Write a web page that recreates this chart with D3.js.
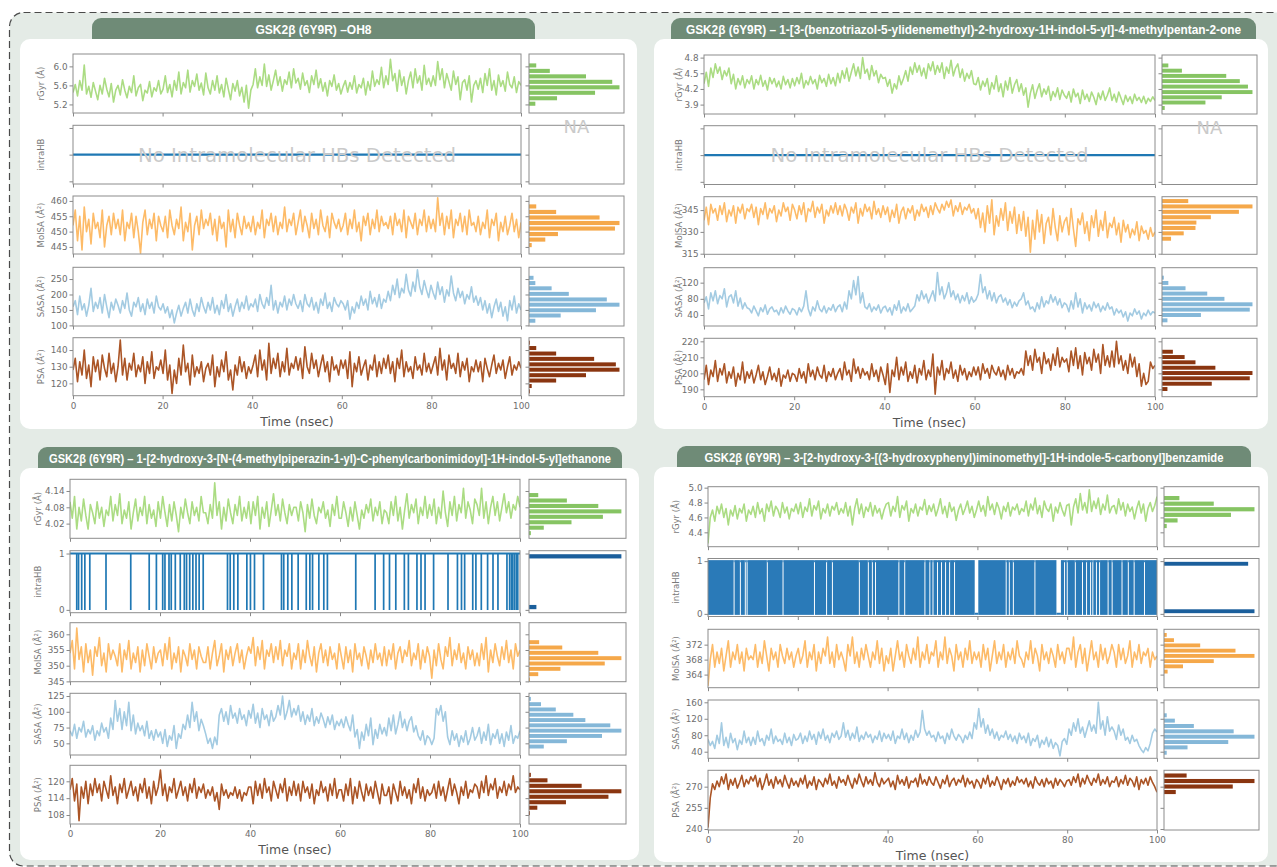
<!DOCTYPE html>
<html>
<head>
<meta charset="utf-8">
<script src="https://cdn.jsdelivr.net/npm/d3@7"></script>
<style>
body { margin: 0; background: #fff; }
svg { display: block; font-family: "DejaVu Sans", sans-serif; }
</style>
</head>
<body>
<svg id="chart" width="1277" height="867"></svg>
<script>
// ---- titles
var title1 = "GSK2\u03b2 (6Y9R) \u2013OH8";
var title2 = "GSK2\u03b2 (6Y9R) \u2013 1-[3-(benzotriazol-5-ylidenemethyl)-2-hydroxy-1H-indol-5-yl]-4-methylpentan-2-one";
var title3 = "GSK2\u03b2 (6Y9R) \u2013 1-[2-hydroxy-3-[N-(4-methylpiperazin-1-yl)-C-phenylcarbonimidoyl]-1H-indol-5-yl]ethanone";
var title4 = "GSK2\u03b2 (6Y9R) \u2013 3-[2-hydroxy-3-[(3-hydroxyphenyl)iminomethyl]-1H-indole-5-carbonyl]benzamide";

var rowNames = ["rGyr (\u00c5)", "intraHB", "MolSA (\u00c5\u00b2)", "SASA (\u00c5\u00b2)", "PSA (\u00c5\u00b2)"];
var timeTicks = [0, 20, 40, 60, 80, 100];

// ---- panel 1 (OH8), 200 frames over 100 ns
var p1Rgyr = [5.45,5.62,5.38,5.7,5.5,6.03,5.42,5.58,5.35,5.66,5.48,5.3,5.6,5.42,5.75,5.52,5.36,5.64,5.25,5.5,
 5.6,5.4,5.72,5.5,5.34,5.58,5.45,5.8,5.38,5.55,5.62,5.28,5.5,5.44,5.68,5.36,5.55,5.48,5.7,5.42,
 5.52,5.8,5.45,5.62,5.36,5.7,5.5,5.88,5.42,5.66,5.55,5.92,5.46,5.7,5.58,5.84,5.5,5.65,5.4,5.86,
 5.55,5.42,5.7,5.5,5.8,5.44,5.62,5.36,5.75,5.52,5.3,5.64,5.48,5.7,5.38,5.56,5.25,5.6,5.12,5.5,
 5.62,5.95,5.55,5.78,5.6,6.05,5.58,5.82,5.5,5.7,5.92,5.6,5.78,5.48,5.72,5.62,5.88,5.55,5.95,5.65,
 5.75,5.52,5.86,5.6,5.7,5.45,5.8,5.62,5.92,5.55,5.74,5.48,5.66,5.38,5.7,5.58,5.82,5.5,5.64,5.42,
 5.58,5.7,5.46,5.66,5.52,5.8,5.44,5.62,5.55,5.75,5.4,5.68,5.5,5.9,5.58,5.72,5.62,5.98,5.55,5.8,
 5.62,6.15,5.7,5.85,5.48,5.92,5.6,5.78,5.42,5.7,5.88,5.55,5.95,5.65,5.8,5.5,6.02,5.62,5.75,5.58,
 5.8,5.6,6.1,5.72,5.95,5.55,5.85,5.68,5.5,5.9,5.62,5.78,5.3,5.66,5.72,5.5,5.8,5.25,5.6,5.7,
 5.52,5.75,5.45,5.85,5.6,5.95,5.5,5.7,5.4,5.82,5.58,5.7,5.48,5.88,5.62,5.55,5.78,5.45,5.68,5.6];
var p1Molsa = [452,457,447,455,444,458,450,454,446,456,451,453,448,457,445,452,455,449,456,451,
 454,449,457,447,453,451,456,448,455,450,443,453,457,449,454,451,456,447,455,452,
 450,455,448,457,452,449,454,451,458,447,453,450,456,444,452,455,449,457,451,454,
 452,456,449,454,447,455,451,453,445,457,450,454,448,456,452,449,455,451,453,450,
 455,449,453,451,457,448,454,452,456,450,455,449,453,451,458,450,454,452,456,449,
 453,457,450,455,452,448,456,451,454,449,457,452,450,455,448,456,453,451,454,450,
 452,456,449,454,451,457,450,453,447,455,452,456,449,454,451,457,450,455,452,453,
 451,455,449,456,452,454,450,457,448,455,453,451,456,449,454,452,457,450,455,451,
 454,450,461,452,456,449,455,451,457,448,454,452,456,450,455,449,457,452,453,450,
 455,449,453,451,457,448,454,452,456,447,453,450,455,449,452,456,450,454,448,453];
var p1Sasa = [160,180,135,195,150,170,130,165,220,145,175,155,190,140,200,160,125,175,150,185,
 165,140,180,155,205,150,130,175,160,190,145,170,135,185,155,175,140,195,160,150,
 170,140,160,125,150,108,140,165,130,155,175,140,185,150,130,170,145,190,160,140,
 175,150,190,140,165,135,180,155,200,145,170,130,160,185,145,175,155,195,150,170,
 160,185,145,200,170,155,190,165,230,150,180,140,175,160,195,150,185,165,200,170,
 155,180,145,200,170,160,190,150,175,140,185,165,205,155,175,145,190,170,160,180,
 170,150,180,120,160,140,175,155,195,165,185,150,210,170,190,160,200,155,185,175,
 210,180,230,200,250,190,220,205,265,215,195,240,210,280,225,200,245,215,190,230,
 205,185,240,200,225,175,215,195,260,205,180,220,190,210,170,200,185,225,175,195,
 165,190,150,180,140,170,125,160,185,145,175,130,160,115,180,150,195,140,170,150];
var p1Psa = [128,135,121,133,125,140,123,131,118,136,127,134,122,137,129,124,138,126,132,121,
 130,146,125,135,122,132,128,138,124,131,127,136,120,133,126,139,123,130,128,134,
 126,140,122,131,114,128,120,135,125,143,127,132,119,137,124,130,126,133,121,129,
 132,125,137,118,130,124,134,127,139,122,128,116,131,125,136,127,133,123,130,126,
 131,137,124,140,128,134,122,144,126,135,129,138,124,133,127,141,125,132,129,136,
 128,135,123,142,130,126,138,129,134,124,131,137,127,133,121,136,128,131,125,134,
 129,134,123,139,118,132,127,136,125,130,134,122,131,128,137,124,133,126,135,129,
 137,126,133,121,135,129,140,124,133,127,130,123,136,128,131,125,138,127,132,126,
 131,136,125,141,128,134,122,137,129,132,126,138,124,133,128,135,121,130,127,134,
 127,133,121,135,129,124,131,137,126,132,128,134,123,130,136,125,131,128,133,129];
// histogram bin centres and relative counts
var p1RgyrHistC = [6.02,5.905,5.79,5.675,5.56,5.445,5.33,5.215];
var p1RgyrHistN = [8,23,63,92,100,73,31,7];
var p1MolsaHistC = [458.2,456.4,454.6,452.8,451.0,449.2,447.4,445.6];
var p1MolsaHistN = [8,30,78,100,95,32,18,3];
var p1SasaHistC = [254,237,220,202,184,167,149,132,115];
var p1SasaHistN = [5,7,25,44,86,100,74,35,7];
var p1PsaHistC = [144.4,141.2,137.9,134.7,131.4,128.2,124.9,121.7,118.4,115.2];
var p1PsaHistN = [1,8,30,72,96,100,63,30,3,1];

// ---- panel 2 (benzotriazol...)
var p2Rgyr = [4.3,4.52,4.25,4.6,4.42,4.68,4.5,4.62,4.38,4.55,4.45,4.6,4.3,4.48,4.2,4.4,4.28,4.45,4.22,4.38,
 4.3,4.45,4.2,4.38,4.28,4.46,4.25,4.36,4.18,4.42,4.3,4.4,4.24,4.35,4.2,4.44,4.28,4.38,4.22,4.4,
 4.26,4.42,4.3,4.5,4.22,4.36,4.28,4.44,4.3,4.38,4.2,4.46,4.32,4.4,4.25,4.48,4.3,4.42,4.26,4.5,
 4.32,4.55,4.4,4.6,4.35,4.52,4.68,4.45,4.62,4.4,4.8,4.5,4.58,4.38,4.65,4.45,4.55,4.32,4.48,4.4,
 4.42,4.25,4.38,4.12,4.3,4.2,4.45,4.28,4.4,4.55,4.35,4.62,4.48,4.7,4.52,4.65,4.45,4.6,4.4,4.68,
 4.55,4.72,4.48,4.65,4.52,4.7,4.4,4.62,4.5,4.75,4.45,4.6,4.68,4.42,4.58,4.35,4.5,4.4,4.55,4.3,
 4.28,4.42,4.18,4.35,4.25,4.4,4.1,4.32,4.2,4.45,4.15,4.3,4.05,4.35,4.18,4.42,4.12,4.28,4.38,4.15,
 4.3,4.08,4.22,3.85,4.12,4.28,4.02,4.18,4.3,4.05,4.2,4.1,4.25,3.98,4.15,4.05,4.22,4.0,4.18,4.08,
 4.02,4.15,3.95,4.2,4.05,4.12,3.92,4.18,4.0,4.1,3.96,4.14,4.04,3.9,4.12,4.0,4.16,3.98,4.08,4.22,
 3.98,4.1,3.95,4.14,4.02,3.9,4.08,3.96,4.05,3.92,4.1,3.98,4.04,3.94,4.06,3.92,4.02,3.96,4.05,3.98];
var p2Molsa = [338,347,335,349,343,346,338,348,342,350,337,345,341,348,336,347,343,349,339,346,
 344,349,340,347,335,346,342,350,339,346,343,348,337,345,341,350,344,347,338,349,
 345,339,348,342,350,337,346,344,351,340,347,343,349,336,345,341,348,343,350,342,
 348,341,349,345,338,347,343,350,336,346,341,349,344,347,339,351,342,346,340,348,
 342,347,337,345,340,349,336,344,347,339,346,343,348,338,345,341,349,344,347,340,
 348,342,350,346,343,349,345,351,347,352,341,348,344,350,342,347,345,349,343,346,
 339,346,333,343,330,348,336,352,328,341,334,346,338,350,331,344,336,347,329,342,
 331,344,327,340,316,338,325,345,330,342,322,336,340,328,346,333,324,341,330,337,
 340,328,346,332,320,339,335,343,329,337,324,341,333,345,327,338,331,344,326,336,
 333,340,328,336,323,338,330,335,326,332,328,337,324,334,329,331,325,333,327,330];
var p2Sasa = [70,85,55,95,75,100,68,88,80,105,60,85,90,70,100,62,82,55,70,58,
 55,45,62,50,38,58,48,65,42,55,60,48,52,40,58,45,62,50,42,56,
 52,40,58,48,62,100,55,38,60,50,75,55,48,62,45,58,52,66,48,60,
 65,48,72,55,100,80,125,90,135,70,95,60,55,68,48,60,52,65,45,58,
 62,48,58,40,65,52,75,45,60,50,68,48,55,62,90,75,100,80,92,70,
 85,100,75,145,90,110,80,95,120,85,100,78,92,70,88,75,95,68,85,72,
 78,92,140,95,110,80,100,75,95,70,85,90,72,82,65,78,58,72,62,75,
 80,95,65,75,55,60,48,70,55,85,60,75,68,90,72,85,65,80,58,70,
 65,48,75,55,95,60,80,45,70,55,65,50,72,58,68,48,62,52,70,55,
 60,40,55,45,52,35,48,25,45,38,55,42,50,30,45,38,52,40,48,45];
var p2Psa = [196,205,193,202,198,208,195,203,199,206,194,201,197,204,192,200,196,207,194,201,
 197,202,194,199,205,196,201,193,198,204,196,200,195,203,192,199,197,202,195,200,
 199,195,203,197,201,194,206,198,202,196,204,199,197,205,195,201,198,203,196,200,
 203,196,207,199,202,195,209,200,204,197,203,199,201,196,206,198,202,195,204,199,
 193,206,188,202,198,210,196,204,199,207,195,201,197,205,194,203,199,208,196,202,
 198,212,187,204,199,208,196,203,200,207,197,202,195,205,199,203,196,201,198,204,
 199,204,196,206,200,203,197,205,201,199,204,198,202,196,205,199,203,197,201,200,
 203,199,214,205,211,202,215,207,210,200,213,206,209,202,212,205,216,204,210,207,
 209,201,214,205,216,203,211,199,213,206,210,202,215,207,212,200,218,205,211,204,
 214,204,220,206,211,202,208,200,212,204,210,198,206,192,200,193,195,207,203,205];
var p2RgyrHistC = [4.65,4.55,4.45,4.35,4.245,4.14,4.04,3.94,3.835];
var p2RgyrHistN = [7,22,71,86,95,100,66,48,3];
var p2MolsaHistC = [351.2,347.5,343.8,340.1,336.4,332.7,329.0,325.3];
var p2MolsaHistN = [29,100,85,54,38,37,24,10];
var p2SasaHistC = [132.4,119.3,106.2,93,80,66.5,53.3,40,26.8];
var p2SasaHistN = [2,7,26,50,69,100,97,43,6];
var p2PsaHistC = [213.5,210.2,206.9,203.5,200.2,196.9,193.5,190.2];
var p2PsaHistN = [12,25,37,59,100,97,55,6];

// ---- panel 3 (methylpiperazin...)
var p3Rgyr = [4.1,4.04,4.12,4.0,4.08,4.03,4.11,4.05,4.0,4.09,4.06,4.02,4.1,4.04,4.08,4.01,4.07,4.05,4.12,4.03,
 4.09,4.05,4.13,4.02,4.07,4.04,4.1,4.0,4.06,4.11,4.03,4.08,4.05,4.12,4.02,4.09,4.04,4.07,4.01,4.1,
 4.04,4.12,4.06,4.01,4.09,4.03,4.1,4.05,3.99,4.08,4.04,4.11,4.06,4.02,4.1,4.05,4.08,4.03,4.12,4.06,
 4.06,4.02,4.09,4.04,4.17,4.05,4.1,4.0,4.08,4.03,4.11,4.06,4.02,4.09,4.05,4.12,4.03,4.08,4.04,4.1,
 4.02,4.1,4.05,4.12,4.0,4.08,4.04,4.1,4.01,4.07,4.13,4.05,4.09,4.03,4.11,4.06,4.02,4.09,4.05,4.08,
 4.08,4.03,4.1,4.06,3.99,4.09,4.04,4.11,4.05,4.02,4.08,4.06,4.1,4.04,4.07,4.01,4.09,4.05,4.12,4.04,
 4.04,4.1,4.06,4.01,4.08,4.03,4.1,4.05,4.0,4.07,4.04,4.09,4.06,4.11,4.03,4.08,4.05,4.1,4.02,4.07,
 4.06,4.02,4.1,4.05,4.12,4.03,4.08,4.0,4.07,4.13,4.04,4.09,4.06,4.11,4.02,4.08,4.05,4.12,4.04,4.09,
 4.05,4.11,4.02,4.08,4.04,4.14,4.06,4.01,4.1,4.05,4.12,4.03,4.09,4.06,4.15,4.04,4.1,4.07,4.02,4.11,
 4.09,4.05,4.15,4.04,4.1,4.02,4.08,4.12,4.05,4.1,4.03,4.08,4.13,4.06,4.1,4.04,4.09,4.07,4.12,4.08];
// times (ns) at which the single intramolecular H-bond breaks (value drops 1 -> 0)
var p3HbDrops = [1.5,1.9,2.6,3.3,4.4,8.0,13.5,17.6,19.2,20.6,21.1,22.0,22.5,23.4,24.5,25.4,25.9,26.6,27.3,
 28.0,28.7,29.6,35.0,35.6,36.4,37.3,39.3,40.1,41.0,43.0,47.0,47.5,48.4,49.3,50.7,52.5,53.3,53.9,55.3,
 56.4,57.2,63.5,67.8,69.7,71.0,72.4,74.3,75.2,77.1,78.0,78.9,80.8,84.0,86.1,87.0,87.7,89.5,90.2,91.4,
 92.8,94.0,95.1,97.1,97.7,98.1,98.4,98.8,99.2,99.5];
var p3Molsa = [354,358,349,362,352,356,348,357,351,355,347,356,353,359,350,354,348,357,352,355,
 353,350,357,348,355,352,358,349,354,351,356,348,355,350,357,353,349,356,351,354,
 355,350,357,352,359,349,354,351,356,348,355,353,350,357,352,355,349,356,353,351,
 351,356,349,354,358,350,353,357,348,355,352,356,350,354,357,351,355,349,353,356,
 354,359,350,356,352,358,349,355,353,357,351,356,352,358,350,355,353,357,349,354,
 352,357,349,355,351,358,353,350,356,348,354,357,351,355,350,356,352,354,349,357,
 353,349,356,351,355,348,357,352,354,350,356,353,349,355,351,357,352,354,350,356,
 350,355,352,357,349,354,356,351,355,353,358,350,354,352,357,349,355,351,356,353,
 346,355,350,357,352,349,356,353,359,350,355,352,357,351,354,349,356,352,355,350,
 354,350,357,352,359,348,355,351,357,353,350,356,352,358,351,355,349,357,353,355];
var p3Sasa = [70,62,80,58,75,68,85,60,72,65,78,55,70,62,82,68,75,58,90,72,
 118,85,105,72,100,78,115,70,95,65,82,70,78,62,85,58,70,55,72,60,
 68,50,72,45,62,55,78,42,65,58,80,72,95,75,115,85,100,70,88,78,
 65,50,58,42,60,48,95,105,85,100,80,110,90,98,82,105,88,95,78,102,
 90,112,82,98,75,105,88,95,78,102,85,92,110,95,125,88,100,118,92,105,
 95,110,85,100,80,95,85,105,78,92,82,98,88,75,92,80,95,72,85,78,
 88,75,92,80,70,95,60,72,42,68,55,80,62,90,48,72,58,80,65,75,
 62,90,70,95,65,80,100,75,88,70,85,92,68,78,62,55,70,48,62,58,
 48,58,105,95,110,85,100,60,48,70,55,65,45,62,52,70,48,58,75,55,
 62,75,50,68,55,80,48,65,58,72,50,65,45,68,55,78,50,62,58,70];
var p3Psa = [117,121,113,119,106,118,114,120,112,119,115,121,116,119,113,120,117,114,122,115,
 118,112,119,116,121,114,117,120,115,118,113,119,116,121,114,118,112,120,115,118,
 124,115,119,113,118,116,121,114,117,120,115,118,113,119,116,121,114,118,116,119,
 114,117,115,118,113,116,110,119,115,117,114,116,115,118,114,117,113,116,115,118,
 118,112,120,115,119,114,121,116,118,113,120,117,114,119,116,121,113,118,115,120,
 115,119,113,120,116,118,114,119,112,117,115,120,116,118,113,119,115,121,114,117,
 117,113,119,115,121,112,118,114,120,116,113,119,115,118,114,120,116,112,119,115,
 115,118,112,119,116,113,120,115,118,114,117,112,119,116,121,114,118,113,117,115,
 116,119,114,120,115,118,113,117,121,115,119,116,112,118,115,120,114,117,116,119,
 118,114,120,116,122,115,119,117,121,114,118,116,120,115,119,117,122,116,118,117];
var p3RgyrHistC = [4.125,4.105,4.085,4.065,4.045,4.025,4.005,3.985];
var p3RgyrHistN = [10,41,75,100,80,46,16,2];
var p3HbHistC = [0.95,0.05];
var p3HbHistN = [100,8];
var p3MolsaHistC = [357.5,355.8,354.1,352.4,350.7,349.0,347.3,345.6];
var p3MolsaHistN = [11,36,75,100,82,34,10,1];
var p3SasaHistC = [120.5,112.1,103.7,95.3,86.9,78.5,70.1,61.7,53.3,44.9];
var p3SasaHistN = [2,13,29,48,61,88,100,79,41,16];
var p3PsaHistC = [122.3,120.35,118.4,116.45,114.5,112.55,110.6,108.65];
var p3PsaHistN = [2,20,57,100,86,40,9,1];

// ---- panel 4 (benzamide)
var p4Rgyr = [4.25,4.6,4.7,4.55,4.75,4.65,4.78,4.6,4.72,4.5,4.7,4.62,4.76,4.58,4.72,4.66,4.78,4.55,4.7,4.64,
 4.75,4.6,4.8,4.65,4.72,4.55,4.78,4.68,4.82,4.62,4.75,4.7,4.6,4.8,4.66,4.74,4.58,4.72,4.68,4.78,
 4.65,4.8,4.6,4.74,4.68,4.85,4.62,4.76,4.7,4.82,4.58,4.72,4.66,4.78,4.62,4.75,4.7,4.8,4.64,4.72,
 4.66,4.8,4.62,4.75,4.5,4.72,4.85,4.65,4.78,4.6,4.74,4.68,4.8,4.62,4.76,4.66,4.72,4.58,4.7,4.78,
 4.8,4.62,4.75,4.68,4.88,4.6,4.76,4.7,4.82,4.55,4.72,4.66,4.78,4.62,4.74,4.7,4.84,4.64,4.76,4.68,
 4.78,4.62,4.72,4.85,4.65,4.75,4.6,4.8,4.68,4.74,4.56,4.7,4.78,4.64,4.72,4.82,4.66,4.75,4.6,4.7,
 4.82,4.68,4.76,4.62,4.88,4.7,4.78,4.64,4.8,4.72,4.58,4.75,4.68,4.8,4.62,4.74,4.7,4.78,4.64,4.72,
 4.68,4.82,4.62,4.78,4.7,4.86,4.65,4.76,4.6,4.82,4.72,4.68,4.78,4.55,4.74,4.66,4.8,4.7,4.62,4.76,
 4.78,4.5,4.74,4.85,4.66,4.92,4.7,4.8,4.66,4.97,4.68,4.82,4.72,4.86,4.64,4.78,4.7,4.9,4.66,4.74,
 4.76,4.65,4.85,4.7,4.8,4.62,4.78,4.68,4.74,4.58,4.72,4.82,4.66,4.78,4.55,4.72,4.8,4.68,4.76,4.88];
// intraHB flickers 0/1 continuously except in these quiet stretches (ns)
var p4HbQuietAt1 = [5.7,7.1,8.2,8.6,13.1,16.6,23.6,26.3,27.6,33.6,35.6,36.5,37.2,42.4,43.7,48.2,49.3,50.0,
 51.0,51.9,52.8,53.7,54.8,66.3,67.0,67.9,72.7,79.3,79.9,81.7,83.3,84.2,85.1,85.6,86.4,87.1,89.0,89.9,
 92.1,93.5,94.8,97.1];
var p4HbQuietAt0 = [[59.4, 60.2], [77.6, 78.6]];
var p4Molsa = [361,368,372,366,370,367,371,365,369,373,366,370,368,372,367,370,365,371,368,369,
 368,372,366,370,367,373,369,365,371,368,370,366,372,369,367,371,368,370,366,369,
 371,367,369,373,366,370,368,372,365,370,367,371,369,374,367,370,366,372,368,370,
 368,365,372,369,374,367,370,366,371,368,372,369,366,370,368,373,367,371,365,369,
 367,371,365,369,373,368,370,366,372,369,367,371,368,374,366,370,368,372,367,370,
 369,373,366,370,368,374,367,371,369,365,372,368,370,366,371,368,373,367,370,368,
 370,366,372,368,371,365,369,373,367,370,368,372,366,370,368,371,367,373,369,368,
 366,370,368,373,367,371,369,365,372,368,370,367,371,369,366,372,368,370,367,371,
 371,368,374,366,370,372,367,371,365,369,373,368,370,366,372,368,371,367,369,372,
 370,366,372,368,371,367,369,373,366,370,368,372,367,370,369,371,366,370,368,369];
var p4Sasa = [70,55,65,48,80,60,110,55,75,50,85,62,72,45,68,58,90,62,75,55,
 75,58,90,65,72,55,80,68,95,60,78,65,70,58,85,62,75,55,82,68,
 72,85,60,78,65,90,70,82,58,88,72,95,68,80,62,85,75,90,70,78,
 110,75,92,68,85,72,100,65,80,70,88,75,82,62,78,70,90,65,85,72,
 82,68,90,60,78,72,95,70,85,62,80,68,92,75,88,140,95,80,90,75,
 80,65,88,72,78,60,85,70,95,78,68,82,75,62,80,70,88,72,110,95,
 145,100,120,85,105,80,95,72,88,68,80,75,90,70,82,65,78,60,85,70,
 78,62,85,55,72,65,80,50,68,58,75,52,70,48,62,55,30,65,72,58,
 95,80,110,90,120,85,100,75,95,115,90,105,85,160,95,115,80,125,90,100,
 90,70,105,80,95,68,75,60,80,65,70,55,45,38,50,42,60,85,95,88];
var p4Psa = [241,262,272,268,274,270,277,272,279,268,275,271,276,269,273,278,270,275,272,277,
 274,278,270,276,268,273,279,271,275,269,277,272,275,270,278,273,269,276,271,274,
 270,276,272,278,269,274,271,277,268,275,273,270,276,272,279,271,274,269,277,273,
 275,271,278,273,269,276,272,279,274,270,277,272,275,271,280,273,270,276,272,274,
 276,270,274,268,278,272,275,271,277,269,274,273,276,270,279,272,275,271,277,273,
 271,277,273,269,275,272,278,270,274,276,271,275,273,278,270,276,272,274,269,275,
 273,269,276,272,278,270,274,271,277,273,268,275,272,276,270,274,271,277,273,275,
 272,276,270,274,269,277,273,271,275,270,276,272,274,269,276,271,275,273,270,274,
 275,271,277,273,279,270,276,272,278,274,271,276,273,279,271,275,272,277,270,274,
 273,277,270,275,272,278,271,276,274,270,277,268,275,272,276,271,277,273,270,266];
var p4RgyrHistC = [4.86,4.785,4.71,4.635,4.56,4.485];
var p4RgyrHistN = [17,55,100,74,15,3];
var p4HbHistC = [0.95,0.05];
var p4HbHistN = [93,100];
var p4MolsaHistC = [374.6,373.2,371.8,370.4,369.0,367.6,366.2,364.8];
var p4MolsaHistN = [3,11,40,79,100,55,21,4];
var p4SasaHistC = [128.5,115.5,102.5,89.5,76.5,63.5,50.5,37.5];
var p4SasaHistN = [3,12,33,77,100,71,26,3];
var p4PsaHistC = [277.9,274.0,270.1,266.2];
var p4PsaHistN = [25,100,76,13];

var lineColors = ["#abdc83", "#1f78b4", "#fdbb68", "#a3cbe2", "#ab5526"];
var histColors = ["#86c463", "#1b5f9c", "#f5a84a", "#84b7d8", "#8a3510"];

// ---- layout + series table built from the arrays above
var panels = [
  { title: title1, titleW: 116, tab: [92, 18, 535], card: [20, 39, 637, 429], main: [73, 521], hist: [529, 624], labelDx: -29,
    rows: [[54, 113], [125.3, 184], [196, 254], [267.3, 326], [337.7, 395.7]],
    series: [
      { v: p1Rgyr, dom: [5.02, 6.26], ticks: [5.2, 5.6, 6.0], fmt: ".1f", hc: p1RgyrHistC, hn: p1RgyrHistN },
      { hb: "none" },
      { v: p1Molsa, dom: [442.7, 461.6], ticks: [445, 450, 455, 460], fmt: "d", hc: p1MolsaHistC, hn: p1MolsaHistN },
      { v: p1Sasa, dom: [98, 288], ticks: [100, 150, 200, 250], fmt: "d", hc: p1SasaHistC, hn: p1SasaHistN },
      { v: p1Psa, dom: [112.6, 147.4], ticks: [120, 130, 140], fmt: "d", hc: p1PsaHistC, hn: p1PsaHistN }
    ] },
  { title: title2, titleW: 555, tab: [671, 18, 1256], card: [654, 39, 1268, 429], main: [704, 1155], hist: [1162, 1257], labelDx: -22,
    rows: [[55, 114], [125.7, 184.5], [196.7, 254.3], [267.7, 326], [338.3, 396.7]],
    series: [
      { v: p2Rgyr, dom: [3.72, 4.85], ticks: [3.9, 4.2, 4.5, 4.8], fmt: ".1f", hc: p2RgyrHistC, hn: p2RgyrHistN },
      { hb: "none" },
      { v: p2Molsa, dom: [314.6, 354.2], ticks: [315, 330, 345], fmt: "d", hc: p2MolsaHistC, hn: p2MolsaHistN },
      { v: p2Sasa, dom: [12.8, 157], ticks: [40, 80, 120], fmt: "d", hc: p2SasaHistC, hn: p2SasaHistN },
      { v: p2Psa, dom: [185.4, 221.9], ticks: [190, 200, 210, 220], fmt: "d", hc: p2PsaHistC, hn: p2PsaHistN }
    ] },
  { title: title3, titleW: 562, tab: [38, 447, 622], card: [20, 468, 639, 860], main: [70, 520], hist: [529, 626], labelDx: -29,
    rows: [[479.3, 538.3], [550.7, 612.7], [622.7, 681.7], [693.3, 755], [765.3, 824]],
    series: [
      { v: p3Rgyr, dom: [3.966, 4.183], ticks: [4.02, 4.08, 4.14], fmt: ".2f", hc: p3RgyrHistC, hn: p3RgyrHistN },
      { hb: "drops", drops: p3HbDrops, dom: [-0.05, 1.05], ticks: [0, 1], fmt: "d", hc: p3HbHistC, hn: p3HbHistN },
      { v: p3Molsa, dom: [344.9, 363.7], ticks: [345, 350, 355, 360], fmt: "d", hc: p3MolsaHistC, hn: p3MolsaHistN },
      { v: p3Sasa, dom: [31.5, 129.3], ticks: [50, 75, 100, 125], fmt: "d", hc: p3SasaHistC, hn: p3SasaHistN },
      { v: p3Psa, dom: [104.8, 125.7], ticks: [108, 114, 120], fmt: "d", hc: p3PsaHistC, hn: p3PsaHistN }
    ] },
  { title: title4, titleW: 519, tab: [677, 446, 1251], card: [654, 467, 1268, 862], main: [708, 1157], hist: [1164, 1259], labelDx: -29,
    rows: [[486.7, 546.7], [558.5, 616.5], [629.3, 687.7], [700, 758.3], [770.3, 830]],
    series: [
      { v: p4Rgyr, dom: [4.207, 5.013], ticks: [4.4, 4.6, 4.8, 5.0], fmt: ".1f", hc: p4RgyrHistC, hn: p4RgyrHistN },
      { hb: "dense", at1: p4HbQuietAt1, at0: p4HbQuietAt0, dom: [-0.05, 1.05], ticks: [0, 1], fmt: "d", hc: p4HbHistC, hn: p4HbHistN },
      { v: p4Molsa, dom: [360.5, 376.1], ticks: [364, 368, 372], fmt: "d", hc: p4MolsaHistC, hn: p4MolsaHistN },
      { v: p4Sasa, dom: [24, 165.6], ticks: [40, 80, 120, 160], fmt: "d", hc: p4SasaHistC, hn: p4SasaHistN },
      { v: p4Psa, dom: [239.3, 281.6], ticks: [240, 255, 270], fmt: "d", hc: p4PsaHistC, hn: p4PsaHistN }
    ] }
];

var svg = d3.select("#chart");
var clipId = 0;

// dashed outer frame on the grey-green background
svg.append("rect").attr("width", 1277).attr("height", 867).attr("fill", "#ffffff");
svg.append("rect")
  .attr("x", 9.5).attr("y", 12.5).attr("width", 1320).attr("height", 853.5).attr("rx", 14)
  .attr("fill", "#e4ebe6").attr("stroke", "#4a4a4a").attr("stroke-width", 1.2)
  .attr("stroke-dasharray", "7,4");

function styleAxis(g, showLabels) {
  g.attr("font-family", "DejaVu Sans").attr("font-size", 8.8);
  g.select(".domain").remove();
  g.selectAll(".tick line").attr("stroke", "#7a7a7a").attr("stroke-width", 0.9);
  g.selectAll(".tick text").attr("fill", "#6e6e6e");
  if (!showLabels) g.selectAll(".tick text").remove();
}

function drawPanel(p) {
  var g = svg.append("g");
  // header tab + card
  g.append("rect")
    .attr("x", p.tab[0]).attr("y", p.tab[1]).attr("width", p.tab[2] - p.tab[0]).attr("height", 34)
    .attr("rx", 9).attr("fill", "#6f8b77");
  g.append("rect")
    .attr("x", p.card[0]).attr("y", p.card[1]).attr("width", p.card[2] - p.card[0]).attr("height", p.card[3] - p.card[1])
    .attr("rx", 10).attr("fill", "#ffffff");
  g.append("text")
    .attr("x", (p.tab[0] + p.tab[2]) / 2).attr("y", p.tab[1] + 15.5)
    .attr("text-anchor", "middle")
    .attr("font-family", "'Liberation Sans Narrow','Liberation Sans',Arial,sans-serif")
    .attr("font-weight", "bold").attr("font-size", 12).attr("fill", "#ffffff")
    .attr("textLength", p.titleW).attr("lengthAdjust", "spacingAndGlyphs")
    .text(p.title);

  var x = d3.scaleLinear().domain([0, 100]).range([p.main[0], p.main[1]]);
  var xh = d3.scaleLinear().domain([0, 105]).range([p.hist[0], p.hist[1]]);

  p.series.forEach(function (s, r) {
    var top = p.rows[r][0], bot = p.rows[r][1];
    var dom = s.hb === "none" ? [-0.055, 0.055] : s.dom;
    var y = d3.scaleLinear().domain(dom).range([bot, top]);
    var ticks = s.hb === "none" ? [-0.05, 0, 0.05] : s.ticks;
    var isLast = r === p.series.length - 1;

    var cid = "clip" + (clipId++);
    g.append("clipPath").attr("id", cid).append("rect")
      .attr("x", p.main[0]).attr("y", top).attr("width", p.main[1] - p.main[0]).attr("height", bot - top);
    var plot = g.append("g").attr("clip-path", "url(#" + cid + ")");

    if (s.v) {
      var n = s.v.length;
      var line = d3.line()
        .x(function (d, i) { return x(i * 100 / (n - 1)); })
        .y(function (d) { return y(d); });
      plot.append("path").datum(s.v)
        .attr("d", line).attr("fill", "none")
        .attr("stroke", lineColors[r]).attr("stroke-width", 1.6).attr("stroke-linejoin", "round");
    } else if (s.hb === "none") {
      plot.append("line")
        .attr("x1", x(0)).attr("x2", x(100)).attr("y1", y(0)).attr("y2", y(0))
        .attr("stroke", lineColors[1]).attr("stroke-width", 2.2);
    } else if (s.hb === "drops") {
      plot.append("line")
        .attr("x1", x(0)).attr("x2", x(100)).attr("y1", y(1)).attr("y2", y(1))
        .attr("stroke", lineColors[1]).attr("stroke-width", 1.8);
      plot.selectAll("line.drop").data(s.drops).enter().append("line")
        .attr("class", "drop")
        .attr("x1", function (d) { return x(d); }).attr("x2", function (d) { return x(d); })
        .attr("y1", y(1)).attr("y2", y(0))
        .attr("stroke", lineColors[1]).attr("stroke-width", 1.7);
    } else if (s.hb === "dense") {
      var quiet = s.at1.map(function (t) { return [t, t + 0.22, 1]; })
        .concat(s.at0.map(function (q) { return [q[0], q[1], 0]; }))
        .sort(function (a, b) { return a[0] - b[0]; });
      var segs = [], t0 = 0;
      quiet.forEach(function (q) { segs.push([t0, q[0]]); t0 = q[1]; });
      segs.push([t0, 100]);
      plot.selectAll("rect.flip").data(segs).enter().append("rect")
        .attr("class", "flip")
        .attr("x", function (d) { return x(d[0]); })
        .attr("width", function (d) { return Math.max(0, x(d[1]) - x(d[0])); })
        .attr("y", y(1) - 1).attr("height", y(0) - y(1) + 2)
        .attr("fill", "#2a7ab8");
      plot.selectAll("line.quiet").data(quiet).enter().append("line")
        .attr("class", "quiet")
        .attr("x1", function (d) { return x(d[0]); }).attr("x2", function (d) { return x(d[1]); })
        .attr("y1", function (d) { return y(d[2]); }).attr("y2", function (d) { return y(d[2]); })
        .attr("stroke", "#2a7ab8").attr("stroke-width", 2);
    }

    // histogram on the right, bins on the same y scale
    if (s.hc) {
      var bw = Math.abs(s.hc[0] - s.hc[s.hc.length - 1]) / Math.max(1, s.hc.length - 1);
      if (s.hb) bw = 0.1;
      g.selectAll(null).data(s.hc).enter().append("rect")
        .attr("x", xh(0))
        .attr("y", function (c) { return y(c + bw / 2) + 0.7; })
        .attr("height", function (c) { return Math.max(1, y(c - bw / 2) - y(c + bw / 2) - 1.4); })
        .attr("width", function (c, i) { return xh(s.hn[i]) - xh(0); })
        .attr("fill", histColors[r]);
    }

    // axes
    var fmt = s.fmt ? d3.format(s.fmt) : null;
    var ya = g.append("g").attr("transform", "translate(" + p.main[0] + ",0)")
      .call(d3.axisLeft(y).tickValues(ticks).tickSize(3.5).tickPadding(2).tickFormat(fmt));
    styleAxis(ya, s.hb !== "none");
    var yh = g.append("g").attr("transform", "translate(" + p.hist[0] + ",0)")
      .call(d3.axisLeft(y).tickValues(ticks).tickSize(3.5));
    styleAxis(yh, false);
    var xa = g.append("g").attr("transform", "translate(0," + bot + ")")
      .call(d3.axisBottom(x).tickValues(timeTicks).tickSize(3.5).tickPadding(3.5));
    styleAxis(xa, isLast);

    // frames
    g.append("rect").attr("x", p.main[0]).attr("y", top)
      .attr("width", p.main[1] - p.main[0]).attr("height", bot - top)
      .attr("fill", "none").attr("stroke", "#8c8c8c").attr("stroke-width", 1);
    g.append("rect").attr("x", p.hist[0]).attr("y", top)
      .attr("width", p.hist[1] - p.hist[0]).attr("height", bot - top)
      .attr("fill", "none").attr("stroke", "#8c8c8c").attr("stroke-width", 1);

    // y label
    g.append("text")
      .attr("transform", "translate(" + (p.main[0] + p.labelDx) + "," + ((top + bot) / 2) + ") rotate(-90)")
      .attr("text-anchor", "middle").attr("font-size", 8.5).attr("fill", "#7a7a7a")
      .text(rowNames[r]);

    if (s.hb === "none") {
      g.append("text")
        .attr("x", (p.main[0] + p.main[1]) / 2).attr("y", y(0) + 7)
        .attr("text-anchor", "middle").attr("font-size", 20).attr("fill", "#cacaca")
        .attr("textLength", 318).attr("lengthAdjust", "spacingAndGlyphs")
        .text("No Intramolecular HBs Detected");
      g.append("text")
        .attr("x", (p.hist[0] + p.hist[1]) / 2).attr("y", top + 8)
        .attr("text-anchor", "middle").attr("font-size", 18).attr("fill", "#cacaca")
        .text("NA");
    }

    if (isLast) {
      g.append("text")
        .attr("x", (p.main[0] + p.main[1]) / 2).attr("y", bot + 30)
        .attr("text-anchor", "middle").attr("font-size", 12.5).attr("fill", "#555")
        .text("Time (nsec)");
    }
  });
}

panels.forEach(drawPanel);
</script>
</body>
</html>
